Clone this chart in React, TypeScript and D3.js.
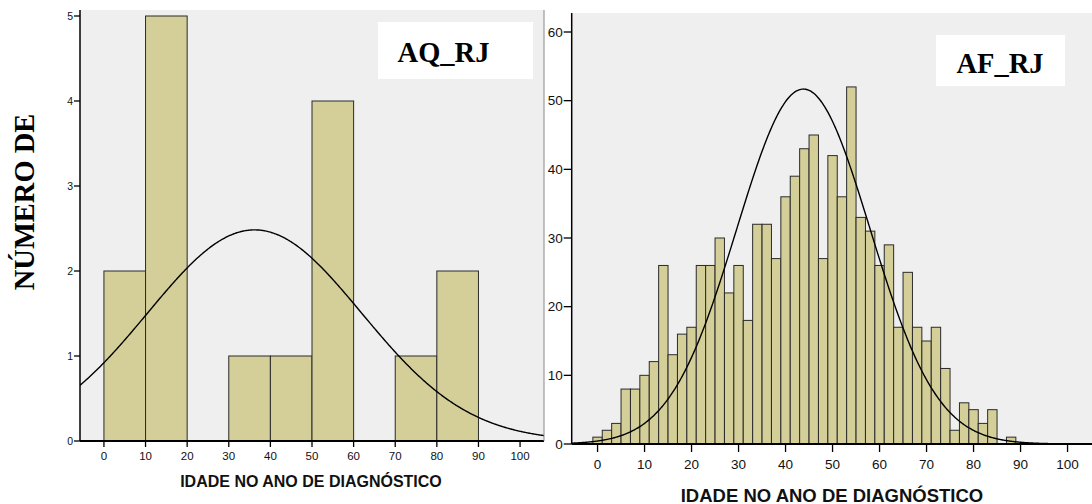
import React from 'react';
import * as d3 from 'd3';

// AQ_RJ histogram (bins of 10 years)
const aqBinStarts = [0, 10, 20, 30, 40, 50, 60, 70, 80];
const aqCounts = [2, 5, 0, 1, 1, 4, 0, 1, 2];
const aqMean = 36.2;
const aqSd = 25.7;
const aqYTicks = [0, 1, 2, 3, 4, 5];

// AF_RJ histogram (bins of 2 years, centred on even ages)
const afBinCenters = [
  0, 2, 4, 6, 8, 10, 12, 14, 16, 18, 20, 22, 24, 26, 28, 30, 32, 34, 36, 38, 40, 42, 44,
  46, 48, 50, 52, 54, 56, 58, 60, 62, 64, 66, 68, 70, 72, 74, 76, 78, 80, 82, 84, 86, 88,
];
const afCounts = [
  1, 2, 3, 8, 8, 10, 12, 26, 13, 16, 17, 26, 26, 30, 22, 26, 18, 32, 32, 27, 36, 39, 43,
  45, 27, 42, 36, 52, 33, 31, 26, 29, 17, 25, 17, 15, 17, 11, 2, 6, 5, 3, 5, 0, 1,
];
const afMean = 43.8;
const afSd = 14.17;
const afYTicks = [0, 10, 20, 30, 40, 50, 60];

const xTicks = [0, 10, 20, 30, 40, 50, 60, 70, 80, 90, 100];
const xTitle = 'IDADE NO ANO DE DIAGNÓSTICO';
const yTitle = 'NÚMERO DE';

const SANS = '"Liberation Sans", Arial, sans-serif';
const SERIF = '"Liberation Serif", "Times New Roman", serif';
const BAR_FILL = '#d4cf99';
const BG = '#efefef';

type PanelProps = {
  id: string;
  bins: { x0: number; x1: number; n: number }[];
  mean: number;
  sd: number;
  binWidth: number;
  xDomain: [number, number];
  xRange: [number, number];
  yDomain: [number, number];
  yRange: [number, number];
  bgTop: number;
  bgRight: number;
  yTicks: number[];
  tickFont: number;
  yTickFont: number;
  xLabelY: number;
  titleFont: number;
  titleY: number;
  titleX: number;
  tickLen: number;
};

function Panel(p: PanelProps) {
  const x = d3.scaleLinear().domain(p.xDomain).range(p.xRange);
  const y = d3.scaleLinear().domain(p.yDomain).range(p.yRange);
  const total = d3.sum(p.bins, (b) => b.n);
  const curvePts = d3.range(p.xDomain[0], p.xDomain[1] + 0.25, 0.25);
  const normal = (v: number) =>
    (total * p.binWidth) / (p.sd * Math.sqrt(2 * Math.PI)) *
    Math.exp(-0.5 * ((v - p.mean) / p.sd) ** 2);
  const line = d3
    .line<number>()
    .x((v) => x(v))
    .y((v) => y(normal(v)))
    .curve(d3.curveBasis);
  const [left] = p.xRange;
  const bottom = p.yRange[0];

  return (
    <g>
      <clipPath id={p.id}>
        <rect x={left} y={p.bgTop} width={p.bgRight - left} height={bottom - p.bgTop} />
      </clipPath>
      <rect x={left} y={p.bgTop} width={p.bgRight - left} height={bottom - p.bgTop} fill={BG} />
      {p.bins
        .filter((b) => b.n > 0)
        .map((b, i) => (
          <rect
            key={i}
            x={x(b.x0)}
            y={y(b.n)}
            width={x(b.x1) - x(b.x0)}
            height={y(0) - y(b.n)}
            fill={BAR_FILL}
            stroke="#2a2a2a"
            strokeWidth={1}
          />
        ))}
      <path d={line(curvePts) || ''} fill="none" stroke="#000" strokeWidth={1.4} clipPath={`url(#${p.id})`} />
      {/* y axis */}
      <line x1={left} x2={left} y1={p.bgTop} y2={bottom} stroke="#000" strokeWidth={1.5} />
      {p.yTicks.map((t) => (
        <g key={t}>
          <line x1={left - p.tickLen} x2={left} y1={y(t)} y2={y(t)} stroke="#000" strokeWidth={1.3} />
          <text
            x={left - p.tickLen - 1}
            y={y(t)}
            dy="0.35em"
            textAnchor="end"
            fontFamily={SANS}
            fontSize={p.yTickFont}
            fill="#111"
          >
            {t}
          </text>
        </g>
      ))}
      {/* x axis */}
      <line x1={left} x2={p.bgRight} y1={bottom} y2={bottom} stroke="#000" strokeWidth={2} />
      {xTicks.map((t) => (
        <g key={t}>
          <line x1={x(t)} x2={x(t)} y1={bottom} y2={bottom + p.tickLen} stroke="#000" strokeWidth={1.3} />
          <text
            x={x(t)}
            y={p.xLabelY}
            textAnchor="middle"
            fontFamily={SANS}
            fontSize={p.tickFont}
            fill="#111"
          >
            {t}
          </text>
        </g>
      ))}
      <text
        x={p.titleX}
        y={p.titleY}
        textAnchor="middle"
        fontFamily={SANS}
        fontWeight="bold"
        fontSize={p.titleFont}
        fill="#111"
      >
        {xTitle}
      </text>
    </g>
  );
}

export default function App() {
  const aqBins = aqBinStarts.map((s, i) => ({ x0: s, x1: s + 10, n: aqCounts[i] }));
  const afBins = afBinCenters.map((c, i) => ({ x0: c - 1, x1: c + 1, n: afCounts[i] }));

  return (
    <svg
      width={1092}
      height={504}
      style={{ position: 'absolute', left: 0, top: 0, background: '#fff' }}
    >
      <Panel
        id="clipAQ"
        bins={aqBins}
        mean={aqMean}
        sd={aqSd}
        binWidth={10}
        xDomain={[-5.75, 105.75]}
        xRange={[80, 544]}
        yDomain={[0, 5]}
        yRange={[441, 16]}
        bgTop={10}
        bgRight={544}
        yTicks={aqYTicks}
        tickFont={11.5}
        yTickFont={10.5}
        xLabelY={460}
        titleFont={16}
        titleX={311}
        titleY={487}
        tickLen={6}
      />
      {/* left panel frame edge */}
      <line x1={544} x2={544} y1={10} y2={441} stroke="#888" strokeWidth={1} />
      <Panel
        id="clipAF"
        bins={afBins}
        mean={afMean}
        sd={afSd}
        binWidth={2}
        xDomain={[-5.5, 105.5]}
        xRange={[571.7, 1093.4]}
        yDomain={[0, 60]}
        yRange={[444, 32]}
        bgTop={13}
        bgRight={1092}
        yTicks={afYTicks}
        tickFont={13.5}
        yTickFont={13.5}
        xLabelY={469}
        titleFont={18.5}
        titleX={832}
        titleY={501.5}
        tickLen={8}
      />
      {/* legend boxes */}
      <rect x={378} y={22} width={155} height={57} fill="#fff" />
      <text x={443.5} y={62} textAnchor="middle" fontFamily={SERIF} fontWeight="bold" fontSize={28.5} fill="#000">
        AQ_RJ
      </text>
      <rect x={936} y={35} width={129} height={51} fill="#fff" />
      <text x={1000} y={72.5} textAnchor="middle" fontFamily={SERIF} fontWeight="bold" fontSize={28.5} fill="#000">
        AF_RJ
      </text>
      {/* y axis title */}
      <text
        transform="translate(34,202) rotate(-90)"
        textAnchor="middle"
        fontFamily={SERIF}
        fontWeight="bold"
        fontSize={28.5}
        fill="#000"
      >
        {yTitle}
      </text>
    </svg>
  );
}
